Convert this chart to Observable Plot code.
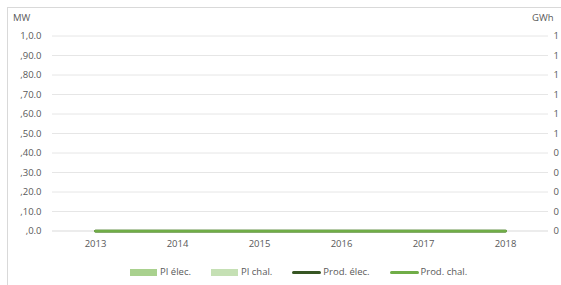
<!DOCTYPE html>
<html>
<head>
<meta charset="utf-8">
<script src="https://cdn.jsdelivr.net/npm/d3@7"></script>
<script src="https://cdn.jsdelivr.net/npm/@observablehq/plot@0.6"></script>
<style>
  html, body { margin: 0; padding: 0; background: #fff; overflow: hidden; width: 561px; height: 285px; }
  body { position: relative; font-family: "Open Sans", sans-serif; color: #595959; }
  #frame { position: absolute; left: 7px; top: 7px; width: 620px; height: 320px; border: 1px solid #d9d9d9; box-sizing: border-box; }
  #chart { position: absolute; left: 0; top: 0; }
  #legend { position: absolute; left: 130px; top: 265px; display: flex; gap: 20px; font-size: 9.5px; line-height: 14px; white-space: nowrap; }
  .item { display: flex; align-items: center; }
  .sw-rect { width: 27px; height: 7px; margin-right: 3px; }
  .sw-line { width: 29px; height: 3px; margin-right: 2px; border-radius: 1.5px; }
  .title { position: absolute; top: 11px; font-size: 9.5px; }
</style>
</head>
<body>
<div id="frame"></div>
<div id="chart"></div>
<div class="title" style="left:13px">MW</div>
<div class="title" style="left:532px">GWh</div>
<div id="legend"></div>
<script>
const years = ["2013", "2014", "2015", "2016", "2017", "2018"];
const plElec = [0, 0, 0, 0, 0, 0];
const plChal = [0, 0, 0, 0, 0, 0];
const prodElec = [0, 0, 0, 0, 0, 0];
const prodChal = [0, 0, 0, 0, 0, 0];
const leftTicks = [0, 10, 20, 30, 40, 50, 60, 70, 80, 90, 100];
const leftLabels = [",0.0", ",10.0", ",20.0", ",30.0", ",40.0", ",50.0", ",60.0", ",70.0", ",80.0", ",90.0", "1,0.0"];
const rightLabels = ["0", "0", "0", "0", "0", "1", "1", "1", "1", "1", "1"];
const seriesNames = ["PI élec.", "PI chal.", "Prod. élec.", "Prod. chal."];
const seriesColors = ["#a9d18e", "#c5e0b4", "#375623", "#70ad47"];

const bars = [];
years.forEach((y, i) => {
  bars.push({year: y, series: seriesNames[0], value: plElec[i]});
  bars.push({year: y, series: seriesNames[1], value: plChal[i]});
});
const elecLine = years.map((y, i) => ({year: y, value: prodElec[i]}));
const chalLine = years.map((y, i) => ({year: y, value: prodChal[i]}));

const fontFam = "'Open Sans', sans-serif";
const plot = Plot.plot({
  width: 561,
  height: 250,
  marginLeft: 52,
  marginRight: 13,
  marginTop: 35.5,
  marginBottom: 19.5,
  style: {fontFamily: fontFam, fontSize: "9.5px", color: "#595959", background: "transparent", overflow: "visible"},
  x: {type: "band", domain: years, padding: 0, label: null},
  y: {domain: [0, 100], label: null},
  color: {domain: seriesNames, range: seriesColors},
  marks: [
    Plot.gridY(leftTicks.slice(1), {stroke: "#e6e6e6", strokeOpacity: 1, strokeWidth: 1}),
    Plot.ruleY([0], {stroke: "#d9d9d9", strokeWidth: 1}),
    Plot.axisY(leftTicks, {anchor: "left", tickSize: 0, tickPadding: 11, fill: "#595959",
      tickFormat: (d) => leftLabels[leftTicks.indexOf(d)], label: null}),
    Plot.axisY(leftTicks, {anchor: "right", tickSize: 0, tickPadding: 5, fill: "#595959",
      tickFormat: (d) => rightLabels[leftTicks.indexOf(d)], label: null}),
    Plot.axisX({tickSize: 0, tickPadding: 9, fill: "#595959", label: null}),
    Plot.barY(bars, {x: "year", y: "value", fill: "series"}),
    Plot.line(elecLine, {x: "year", y: "value", stroke: seriesColors[2], strokeWidth: 2.75}),
    Plot.line(chalLine, {x: "year", y: "value", stroke: seriesColors[3], strokeWidth: 2.75})
  ]
});
document.getElementById("chart").appendChild(plot);

const legend = document.getElementById("legend");
seriesNames.forEach((name, i) => {
  const item = document.createElement("div");
  item.className = "item";
  const sw = document.createElement("span");
  sw.className = i < 2 ? "sw-rect" : "sw-line";
  sw.style.background = seriesColors[i];
  const t = document.createElement("span");
  t.textContent = name;
  item.appendChild(sw);
  item.appendChild(t);
  legend.appendChild(item);
});
</script>
</body>
</html>
